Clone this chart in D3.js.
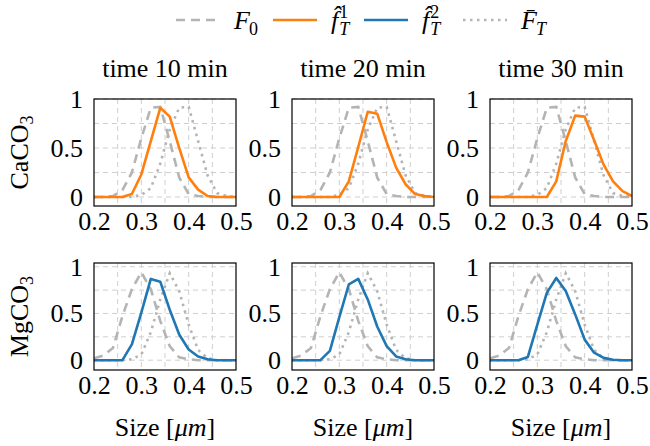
<!DOCTYPE html>
<html>
<head>
<meta charset="utf-8">
<script src="https://cdn.jsdelivr.net/npm/d3@7"></script>
<style>
  body { margin: 0; background: #fff; }
  svg { display: block; }
  text { font-family: "Liberation Serif", "DejaVu Serif", serif; fill: #000; }
</style>
</head>
<body>
<svg id="chart" width="650" height="446"></svg>
<script>
// ---- data ----
var sizes = [0.20, 0.22, 0.24, 0.26, 0.28, 0.30, 0.32, 0.34, 0.36, 0.38, 0.40, 0.42, 0.44, 0.46, 0.48, 0.50];
var times = ["time 10 min", "time 20 min", "time 30 min"];
var species = ["CaCO", "MgCO"];

// initial distribution F0 and target Fbar for each species
var f0Ca   = [0, 0, 0.01, 0.07, 0.25, 0.6, 0.91, 0.92, 0.57, 0.2, 0.03, 0.01, 0, 0, 0, 0];
var fbarCa = [0, 0, 0, 0, 0, 0.02, 0.09, 0.34, 0.69, 0.91, 0.92, 0.57, 0.22, 0.04, 0.01, 0];
var f0Mg   = [0.02, 0.05, 0.13, 0.47, 0.76, 0.94, 0.76, 0.42, 0.15, 0.03, 0.01, 0, 0, 0, 0, 0];
var fbarMg = [0, 0, 0, 0, 0.01, 0.06, 0.3, 0.65, 0.93, 0.74, 0.38, 0.11, 0.02, 0, 0, 0];

// estimates at 10 / 20 / 30 min
var fhat1_10 = [0, 0, 0, 0, 0.03, 0.23, 0.57, 0.91, 0.82, 0.5, 0.2, 0.075, 0.01, 0, 0, 0];
var fhat1_20 = [0, 0, 0, 0, 0, 0, 0.16, 0.51, 0.87, 0.85, 0.56, 0.30, 0.13, 0.03, 0.01, 0];
var fhat1_30 = [0, 0, 0, 0, 0, 0, 0, 0.16, 0.57, 0.83, 0.82, 0.58, 0.33, 0.16, 0.06, 0.01];
var fhat2_10 = [0, 0, 0, 0, 0.17, 0.51, 0.87, 0.84, 0.54, 0.275, 0.115, 0.04, 0.01, 0, 0, 0];
var fhat2_20 = [0, 0, 0, 0, 0.1, 0.46, 0.81, 0.87, 0.65, 0.36, 0.15, 0.04, 0.01, 0, 0, 0];
var fhat2_30 = [0, 0, 0, 0, 0.035, 0.38, 0.72, 0.88, 0.74, 0.49, 0.22, 0.08, 0.025, 0.005, 0, 0];

var xTicks = [0.2, 0.3, 0.4, 0.5];
var xTickLabels = ["0.2", "0.3", "0.4", "0.5"];
var yTicks = [0, 0.5, 1];
var yTickLabels = ["0", "0.5", "1"];
var xGrid = [0.25, 0.3, 0.35, 0.4, 0.45];
var yGrid = [0, 0.25, 0.5, 0.75, 1];

// ---- layout ----
var svg = d3.select("#chart");
var colLeft = [94, 292, 490], rowTop = [99, 263];
var pw = 142, ph = 107;
var yDomains = [[-0.092, 1.0], [-0.105, 1.04]];
var fs = 26;
var gray = "#b4b4b4", orange = "#ff7f0e", blue = "#1f77b4";

var rows = [
  { f0: f0Ca, fbar: fbarCa, est: [fhat1_10, fhat1_20, fhat1_30], color: orange },
  { f0: f0Mg, fbar: fbarMg, est: [fhat2_10, fhat2_20, fhat2_30], color: blue }
];

var x = d3.scaleLinear().domain([0.2, 0.5]).range([0, pw]);

rows.forEach(function(row, r) {
  var y = d3.scaleLinear().domain(yDomains[r]).range([ph, 0]);
  var line = d3.line()
    .x(function(d, i) { return x(sizes[i]); })
    .y(function(d) { return y(d); });

  for (var c = 0; c < 3; c++) {
    var g = svg.append("g").attr("transform", "translate(" + colLeft[c] + "," + rowTop[r] + ")");
    var clipId = "clip" + r + c;
    g.append("clipPath").attr("id", clipId)
      .append("rect").attr("width", pw).attr("height", ph);

    // grid
    g.selectAll(".gx").data(xGrid).enter().append("line")
      .attr("x1", function(d) { return x(d); }).attr("x2", function(d) { return x(d); })
      .attr("y1", 0).attr("y2", ph)
      .attr("stroke", "#cfcfcf").attr("stroke-width", 1).attr("stroke-dasharray", "5,4");
    g.selectAll(".gy").data(yGrid).enter().append("line")
      .attr("x1", 0).attr("x2", pw)
      .attr("y1", function(d) { return y(d); }).attr("y2", function(d) { return y(d); })
      .attr("stroke", "#cfcfcf").attr("stroke-width", 1).attr("stroke-dasharray", "5,4");

    var lines = g.append("g").attr("clip-path", "url(#" + clipId + ")");
    lines.append("path").datum(row.f0).attr("d", line)
      .attr("fill", "none").attr("stroke", gray).attr("stroke-width", 2.6)
      .attr("stroke-dasharray", "9,6");
    lines.append("path").datum(row.fbar).attr("d", line)
      .attr("fill", "none").attr("stroke", gray).attr("stroke-width", 2.6)
      .attr("stroke-dasharray", "2.5,4.5");
    lines.append("path").datum(row.est[c]).attr("d", line)
      .attr("fill", "none").attr("stroke", row.color).attr("stroke-width", 2.6)
      .attr("stroke-linejoin", "round");

    // frame
    g.append("rect").attr("width", pw).attr("height", ph)
      .attr("fill", "none").attr("stroke", "#000").attr("stroke-width", 1.2);

    // axes
    var ax = g.append("g").attr("transform", "translate(0," + ph + ")")
      .call(d3.axisBottom(x).tickValues(xTicks)
        .tickFormat(function(d, i) { return xTickLabels[i]; })
        .tickSize(0).tickPadding(5.5));
    var ay = g.append("g")
      .call(d3.axisLeft(y).tickValues(yTicks)
        .tickFormat(function(d, i) { return yTickLabels[i]; })
        .tickSize(0).tickPadding(11));
    [ax, ay].forEach(function(a) {
      a.select(".domain").remove();
      a.selectAll("text").attr("font-size", fs).attr("fill", "#000");
    });

    if (r === 0) {
      g.append("text").attr("x", pw / 2).attr("y", -22)
        .attr("text-anchor", "middle").attr("font-size", fs).text(times[c]);
    }
    if (r === 1) {
      var sl = g.append("text").attr("x", pw / 2).attr("y", ph + 66)
        .attr("text-anchor", "middle").attr("font-size", fs);
      sl.append("tspan").text("Size [");
      sl.append("tspan").attr("font-style", "italic").text("μm");
      sl.append("tspan").text("]");
    }
  }

  // row label
  var rl = svg.append("text")
    .attr("transform", "translate(28," + (rowTop[r] + ph / 2) + ") rotate(-90)")
    .attr("text-anchor", "middle").attr("font-size", fs);
  rl.append("tspan").text(species[r]);
  rl.append("tspan").attr("font-size", 18).attr("dy", 5).text("3");
});

// ---- legend ----
var legY = 20;
var legend = [
  { start: 176, stroke: gray, dash: "9,6", main: "F", sub: "0", sup: null },
  { start: 273, stroke: orange, dash: null, main: "f\u0302", sub: "T", sup: "1" },
  { start: 364, stroke: blue, dash: null, main: "f\u0302", sub: "T", sup: "2" },
  { start: 463, stroke: gray, dash: "2.5,4.5", main: "F\u0304", sub: "T", sup: null }
];
legend.forEach(function(e) {
  var ln = svg.append("line")
    .attr("x1", e.start).attr("x2", e.start + 44)
    .attr("y1", legY).attr("y2", legY)
    .attr("stroke", e.stroke).attr("stroke-width", 2.6);
  if (e.dash) ln.attr("stroke-dasharray", e.dash);

  var t = svg.append("text").attr("x", e.start + 58).attr("y", legY + 9)
    .attr("font-size", fs);
  t.append("tspan").attr("font-style", "italic").text(e.main);
  if (e.sup) {
    t.append("tspan").attr("font-size", 18).attr("dx", 1).attr("dy", -11).text(e.sup);
    t.append("tspan").attr("font-size", 18).attr("font-style", "italic")
      .attr("dx", -9).attr("dy", 17).text(e.sub);
  } else {
    t.append("tspan").attr("font-size", 18).attr("font-style", e.sub === "T" ? "italic" : "normal")
      .attr("dx", -1).attr("dy", 6).text(e.sub);
  }
});
</script>
</body>
</html>
